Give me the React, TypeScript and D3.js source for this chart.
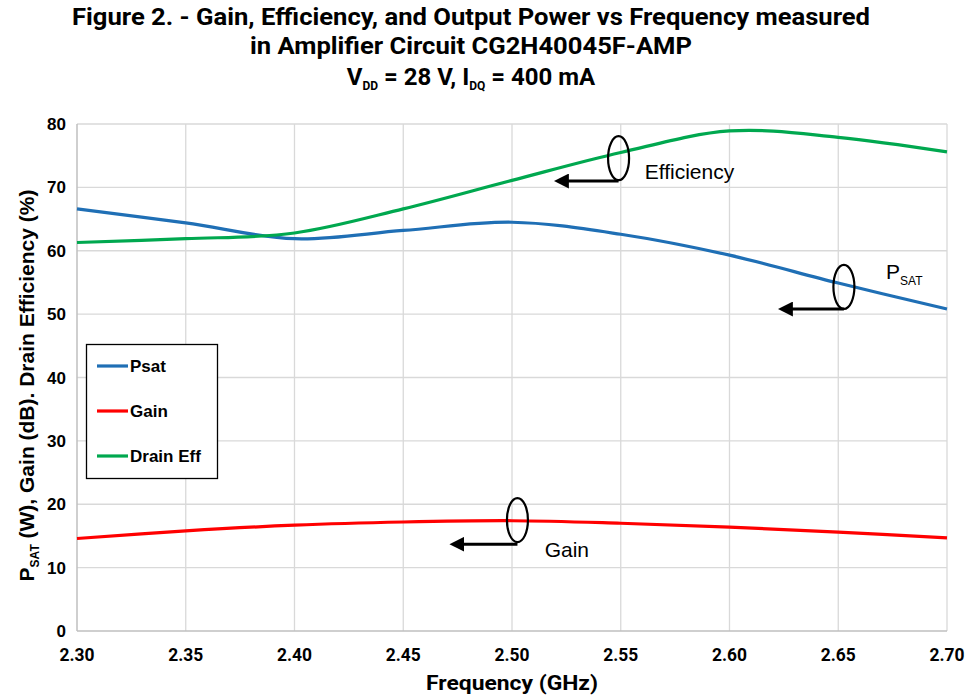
import React, { useEffect, useRef } from 'react';
import * as d3 from 'd3';

// frequency points (GHz)
const freqs = [2.30, 2.35, 2.40, 2.45, 2.50, 2.55, 2.60, 2.65, 2.70];
// series values
const psatVals = [66.6, 64.4, 61.9, 63.2, 64.5, 62.6, 59.3, 54.9, 50.8];
const gainVals = [14.6, 15.8, 16.7, 17.2, 17.4, 17.0, 16.4, 15.6, 14.7];
const effVals = [61.3, 61.9, 62.8, 66.6, 71.1, 75.5, 78.9, 77.9, 75.6];

const xTicks = [2.30, 2.35, 2.40, 2.45, 2.50, 2.55, 2.60, 2.65, 2.70];
const yTicks = [0, 10, 20, 30, 40, 50, 60, 70, 80];

const seriesNames = ['Psat', 'Gain', 'Drain Eff'];
const seriesColors = ['#1f6fb5', '#ff0000', '#00a84f'];

// callout annotations: ellipse on curve, arrow pointing to left axis
const callouts = [
  { f: 2.549, v: 74.6, arrowV: 71.0, arrowEnd: 2.522, label: 'Efficiency', sub: '', lf: 2.561, lv: 71.4 },
  { f: 2.6526, v: 54.3, arrowV: 50.8, arrowEnd: 2.625, label: 'P', sub: 'SAT', lf: 2.672, lv: 55.5 },
  { f: 2.5025, v: 17.5, arrowV: 13.7, arrowEnd: 2.474, label: 'Gain', sub: '', lf: 2.515, lv: 11.6 },
];

const App = () => {
  const ref = useRef<SVGSVGElement | null>(null);

  useEffect(() => {
    drawChart();
    return () => {
      d3.select(ref.current).selectAll('*').remove();
    };
  }, []);

  const drawChart = () => {
    const width = 971;
    const height = 699;
    const margin = { top: 124, right: 24, bottom: 68, left: 77 };

    const svg = d3.select(ref.current)
      .attr('width', width)
      .attr('height', height)
      .style('display', 'block')
      .style('background', '#fff');

    const x = d3.scaleLinear().domain([2.3, 2.7]).range([margin.left, width - margin.right]);
    const y = d3.scaleLinear().domain([0, 80]).range([height - margin.bottom, margin.top]);

    // title
    const title = svg.append('g')
      .attr('font-family', 'Roboto, sans-serif')
      .attr('font-weight', 'bold')
      .attr('fill', '#000')
      .attr('text-anchor', 'middle');
    title.append('text').attr('x', 471).attr('y', 25).attr('font-size', 23)
      .attr('textLength', 798).attr('lengthAdjust', 'spacingAndGlyphs')
      .text('Figure 2. - Gain, Efficiency, and Output Power vs Frequency measured');
    title.append('text').attr('x', 471).attr('y', 54).attr('font-size', 23)
      .attr('textLength', 442).attr('lengthAdjust', 'spacingAndGlyphs')
      .text('in Amplifier Circuit CG2H40045F-AMP');
    const t3 = title.append('text').attr('x', 471).attr('y', 85).attr('font-size', 24);
    t3.append('tspan').text('V');
    t3.append('tspan').attr('font-size', 12).attr('dy', 5).text('DD');
    t3.append('tspan').attr('dy', -5).text(' = 28 V, I');
    t3.append('tspan').attr('font-size', 12).attr('dy', 5).text('DQ');
    t3.append('tspan').attr('dy', -5).text(' = 400 mA');

    // grid
    const grid = svg.append('g').attr('stroke', '#d9d9d9').attr('stroke-width', 1.3);
    grid.selectAll('.hg').data(yTicks.filter(d => d > 0)).enter().append('line')
      .attr('x1', x(2.3)).attr('x2', x(2.7))
      .attr('y1', d => y(d)).attr('y2', d => y(d));
    grid.selectAll('.vg').data(xTicks.filter(d => d > 2.3)).enter().append('line')
      .attr('x1', d => x(d)).attr('x2', d => x(d))
      .attr('y1', y(0)).attr('y2', y(80));

    // axes lines
    svg.append('line').attr('x1', x(2.3)).attr('x2', x(2.7)).attr('y1', y(0)).attr('y2', y(0))
      .attr('stroke', '#bfbfbf').attr('stroke-width', 1.5);
    svg.append('line').attr('x1', x(2.3)).attr('x2', x(2.3)).attr('y1', y(0)).attr('y2', y(80))
      .attr('stroke', '#bfbfbf').attr('stroke-width', 1.5);

    // tick labels
    svg.append('g').selectAll('text').data(yTicks).enter().append('text')
      .attr('x', x(2.3) - 11).attr('y', d => y(d) + 6)
      .attr('text-anchor', 'end')
      .attr('font-family', '"Liberation Sans", Arial, sans-serif')
      .attr('font-weight', 'bold').attr('font-size', 17)
      .text(d => d);
    svg.append('g').selectAll('text').data(xTicks).enter().append('text')
      .attr('x', d => x(d)).attr('y', y(0) + 30)
      .attr('text-anchor', 'middle')
      .attr('font-family', 'Roboto, sans-serif')
      .attr('font-weight', 'bold').attr('font-size', 18)
      .attr('textLength', 35).attr('lengthAdjust', 'spacingAndGlyphs')
      .text(d => d.toFixed(2));

    // axis titles
    svg.append('text').attr('x', 512).attr('y', 690)
      .attr('text-anchor', 'middle')
      .attr('font-family', 'Roboto, sans-serif')
      .attr('font-weight', 'bold').attr('font-size', 20)
      .attr('textLength', 172).attr('lengthAdjust', 'spacingAndGlyphs')
      .text('Frequency (GHz)');
    const yt = svg.append('text')
      .attr('transform', `translate(34,${(y(0) + y(80)) / 2 + 8}) rotate(-90)`)
      .attr('text-anchor', 'middle')
      .attr('font-family', '"Liberation Sans", Arial, sans-serif')
      .attr('font-weight', 'bold').attr('font-size', 21);
    yt.append('tspan').text('P');
    yt.append('tspan').attr('font-size', 12).attr('dy', 5).text('SAT');
    yt.append('tspan').attr('dy', -5).text(' (W), Gain (dB). Drain Efficiency (%)');

    // lines
    const allSeries = [psatVals, gainVals, effVals];
    const line = d3.line<number>()
      .x((_, i) => x(freqs[i]))
      .y(d => y(d))
      .curve(d3.curveCatmullRom.alpha(0));
    svg.append('g').selectAll('path').data(allSeries).enter().append('path')
      .attr('d', d => line(d))
      .attr('fill', 'none')
      .attr('stroke', (_, i) => seriesColors[i])
      .attr('stroke-width', 3.2);

    // callouts
    svg.append('defs').append('marker')
      .attr('id', 'arrowHead')
      .attr('viewBox', '0 0 10 10')
      .attr('refX', 2).attr('refY', 5)
      .attr('markerWidth', 5).attr('markerHeight', 5)
      .attr('orient', 'auto-start-reverse')
      .append('path').attr('d', 'M0,0 L10,5 L0,10 z').attr('fill', '#000');

    const co = svg.append('g');
    callouts.forEach(c => {
      co.append('ellipse')
        .attr('cx', x(c.f)).attr('cy', y(c.v))
        .attr('rx', 10.5).attr('ry', 22)
        .attr('fill', 'none').attr('stroke', '#000').attr('stroke-width', 2.2);
      co.append('line')
        .attr('x1', x(c.f)).attr('x2', x(c.arrowEnd) + 6)
        .attr('y1', y(c.arrowV)).attr('y2', y(c.arrowV))
        .attr('stroke', '#000').attr('stroke-width', 3)
        .attr('marker-end', 'url(#arrowHead)');
      const tx = co.append('text')
        .attr('x', x(c.lf)).attr('y', y(c.lv))
        .attr('font-family', '"Liberation Sans", Arial, sans-serif')
        .attr('font-size', 21).attr('fill', '#000');
      tx.append('tspan').text(c.label);
      if (c.sub) {
        tx.append('tspan').attr('font-size', 12).attr('dy', 6).text(c.sub);
      }
    });

    // legend
    const lg = svg.append('g');
    lg.append('rect').attr('x', 86.5).attr('y', 344.5).attr('width', 131).attr('height', 134)
      .attr('fill', '#fff').attr('stroke', '#000').attr('stroke-width', 1.3);
    seriesNames.forEach((name, i) => {
      const ly = 366 + i * 45;
      lg.append('line').attr('x1', 97).attr('x2', 128).attr('y1', ly).attr('y2', ly)
        .attr('stroke', seriesColors[i]).attr('stroke-width', 3.2);
      lg.append('text').attr('x', 130).attr('y', ly + 6)
        .attr('font-family', '"Liberation Sans", Arial, sans-serif')
        .attr('font-weight', 'bold').attr('font-size', 17)
        .text(name);
    });
  };

  return (
    <div style={{ position: 'absolute', left: 0, top: 0 }}>
      <svg ref={ref}></svg>
    </div>
  );
};

export default App;
